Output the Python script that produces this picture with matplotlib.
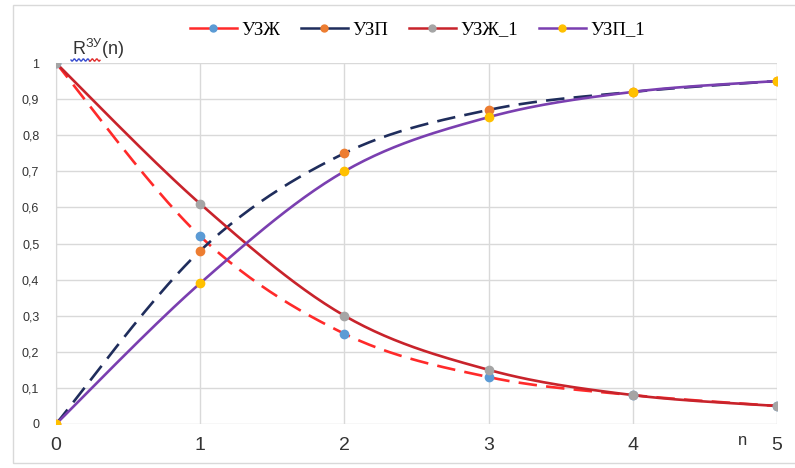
import numpy as np
import matplotlib
matplotlib.use('Agg')
import matplotlib.pyplot as plt
from matplotlib.patches import Rectangle
from matplotlib.lines import Line2D

# Values
n_values = [0, 1, 2, 3, 4, 5]
uzzh = [1.0, 0.52, 0.25, 0.13, 0.08, 0.05]
uzp = [0.0, 0.48, 0.75, 0.87, 0.92, 0.95]
uzzh_1 = [1.0, 0.61, 0.30, 0.15, 0.08, 0.05]
uzp_1 = [0.0, 0.39, 0.70, 0.85, 0.92, 0.95]
series_names = ['УЗЖ', 'УЗП', 'УЗЖ_1', 'УЗП_1']
y_ticks = [0, 0.1, 0.2, 0.3, 0.4, 0.5, 0.6, 0.7, 0.8, 0.9, 1.0]


def smooth(x, y, steps=30):
    # Excel-style smoothed line through the points (Bezier, tension 1/6)
    x = np.asarray(x, float)
    y = np.asarray(y, float)
    px = np.concatenate([[x[0]], x, [x[-1]]])
    py = np.concatenate([[y[0]], y, [y[-1]]])
    xs, ys = [], []
    t = np.linspace(0, 1, steps)
    for i in range(1, len(px) - 2):
        p0 = np.array([px[i], py[i]])
        p3 = np.array([px[i + 1], py[i + 1]])
        c1 = p0 + (p3 - np.array([px[i - 1], py[i - 1]])) / 6
        c2 = p3 - (np.array([px[i + 2], py[i + 2]]) - p0) / 6
        b = ((1 - t) ** 3)[:, None] * p0 + (3 * (1 - t) ** 2 * t)[:, None] * c1 \
            + (3 * (1 - t) * t ** 2)[:, None] * c2 + (t ** 3)[:, None] * p3
        xs.extend(b[:, 0])
        ys.extend(b[:, 1])
    return np.array(xs), np.array(ys)


W, H = 795, 468
fig = plt.figure(figsize=(W / 100, H / 100), dpi=100)
fig.patches.append(Rectangle((13 / W, 5 / H), 1, 458 / H, transform=fig.transFigure,
                             fill=False, edgecolor='#d9d9d9', linewidth=1))
ax = fig.add_axes([56 / W, 1 - 424 / H, 721 / W, 361 / H])

styles = [
    dict(color='#ff2a2a', ls=(0, (7, 3.5)), mfc='#5b9bd5'),
    dict(color='#1f2d5c', ls=(0, (7, 3.5)), mfc='#ed7d31'),
    dict(color='#c8232b', ls='-', mfc='#a5a5a5'),
    dict(color='#7a3fb0', ls='-', mfc='#ffc000'),
]
data = [uzzh, uzp, uzzh_1, uzp_1]

handles = []
for name, vals, st in zip(series_names, data, styles):
    sx, sy = smooth(n_values, vals)
    ax.plot(sx, sy, color=st['color'], ls=st['ls'], lw=1.9, zorder=3)
    ax.plot(n_values, vals, ls='none', marker='o', ms=6, mfc=st['mfc'],
            mec=st['mfc'], zorder=4)
    h, = ax.plot([], [], color=st['color'], ls='-', lw=1.8, marker='o', ms=5,
                 mfc=st['mfc'], mec=st['mfc'])
    handles.append(h)

ax.set_xlim(0, 5)
ax.set_ylim(0, 1)
ax.set_xticks(n_values)
ax.set_xticklabels([str(v) for v in n_values], fontsize=14, family='Liberation Sans')
ax.set_yticks(y_ticks)
ax.set_yticklabels([('%g' % v).replace('.', ',') for v in y_ticks], fontsize=9,
                   family='Liberation Sans')
ax.tick_params(axis='both', length=0, colors='#333333')
ax.tick_params(axis='x', pad=9)
ax.tick_params(axis='y', pad=12)
ax.grid(True, color='#d9d9d9', lw=1)
ax.set_axisbelow(True)
for side in ['top', 'right', 'bottom']:
    ax.spines[side].set_visible(False)
ax.spines['left'].set_color('#d9d9d9')

ax.text(0.11, 1.005, r'R$^{\mathregular{ЗУ}}$(n)', fontsize=13, family='Liberation Sans',
        ha='left', va='bottom', color='#333333')
ax.text(4.76, -0.025, 'n', fontsize=12, family='Liberation Sans', ha='center', va='top',
        color='#333333')

# spell-check squiggle under the axis label
wx = np.linspace(71, 100, 40)
wy = 60 + 1.2 * np.sin((wx - 71) * 1.4)
fig.add_artist(Line2D(wx[:26] / W, 1 - wy[:26] / H, color='#3a4fd0', lw=1))
fig.add_artist(Line2D(wx[25:] / W, 1 - wy[25:] / H, color='#e03030', lw=1))

fig.legend(handles, series_names, loc='center', bbox_to_anchor=(0.525, 1 - 30 / H),
           ncol=4, frameon=False, prop={'family': 'Liberation Serif', 'size': 13.5},
           handlelength=2.5, columnspacing=1.1, handletextpad=0.25)

fig.savefig('out.png', dpi=100)
